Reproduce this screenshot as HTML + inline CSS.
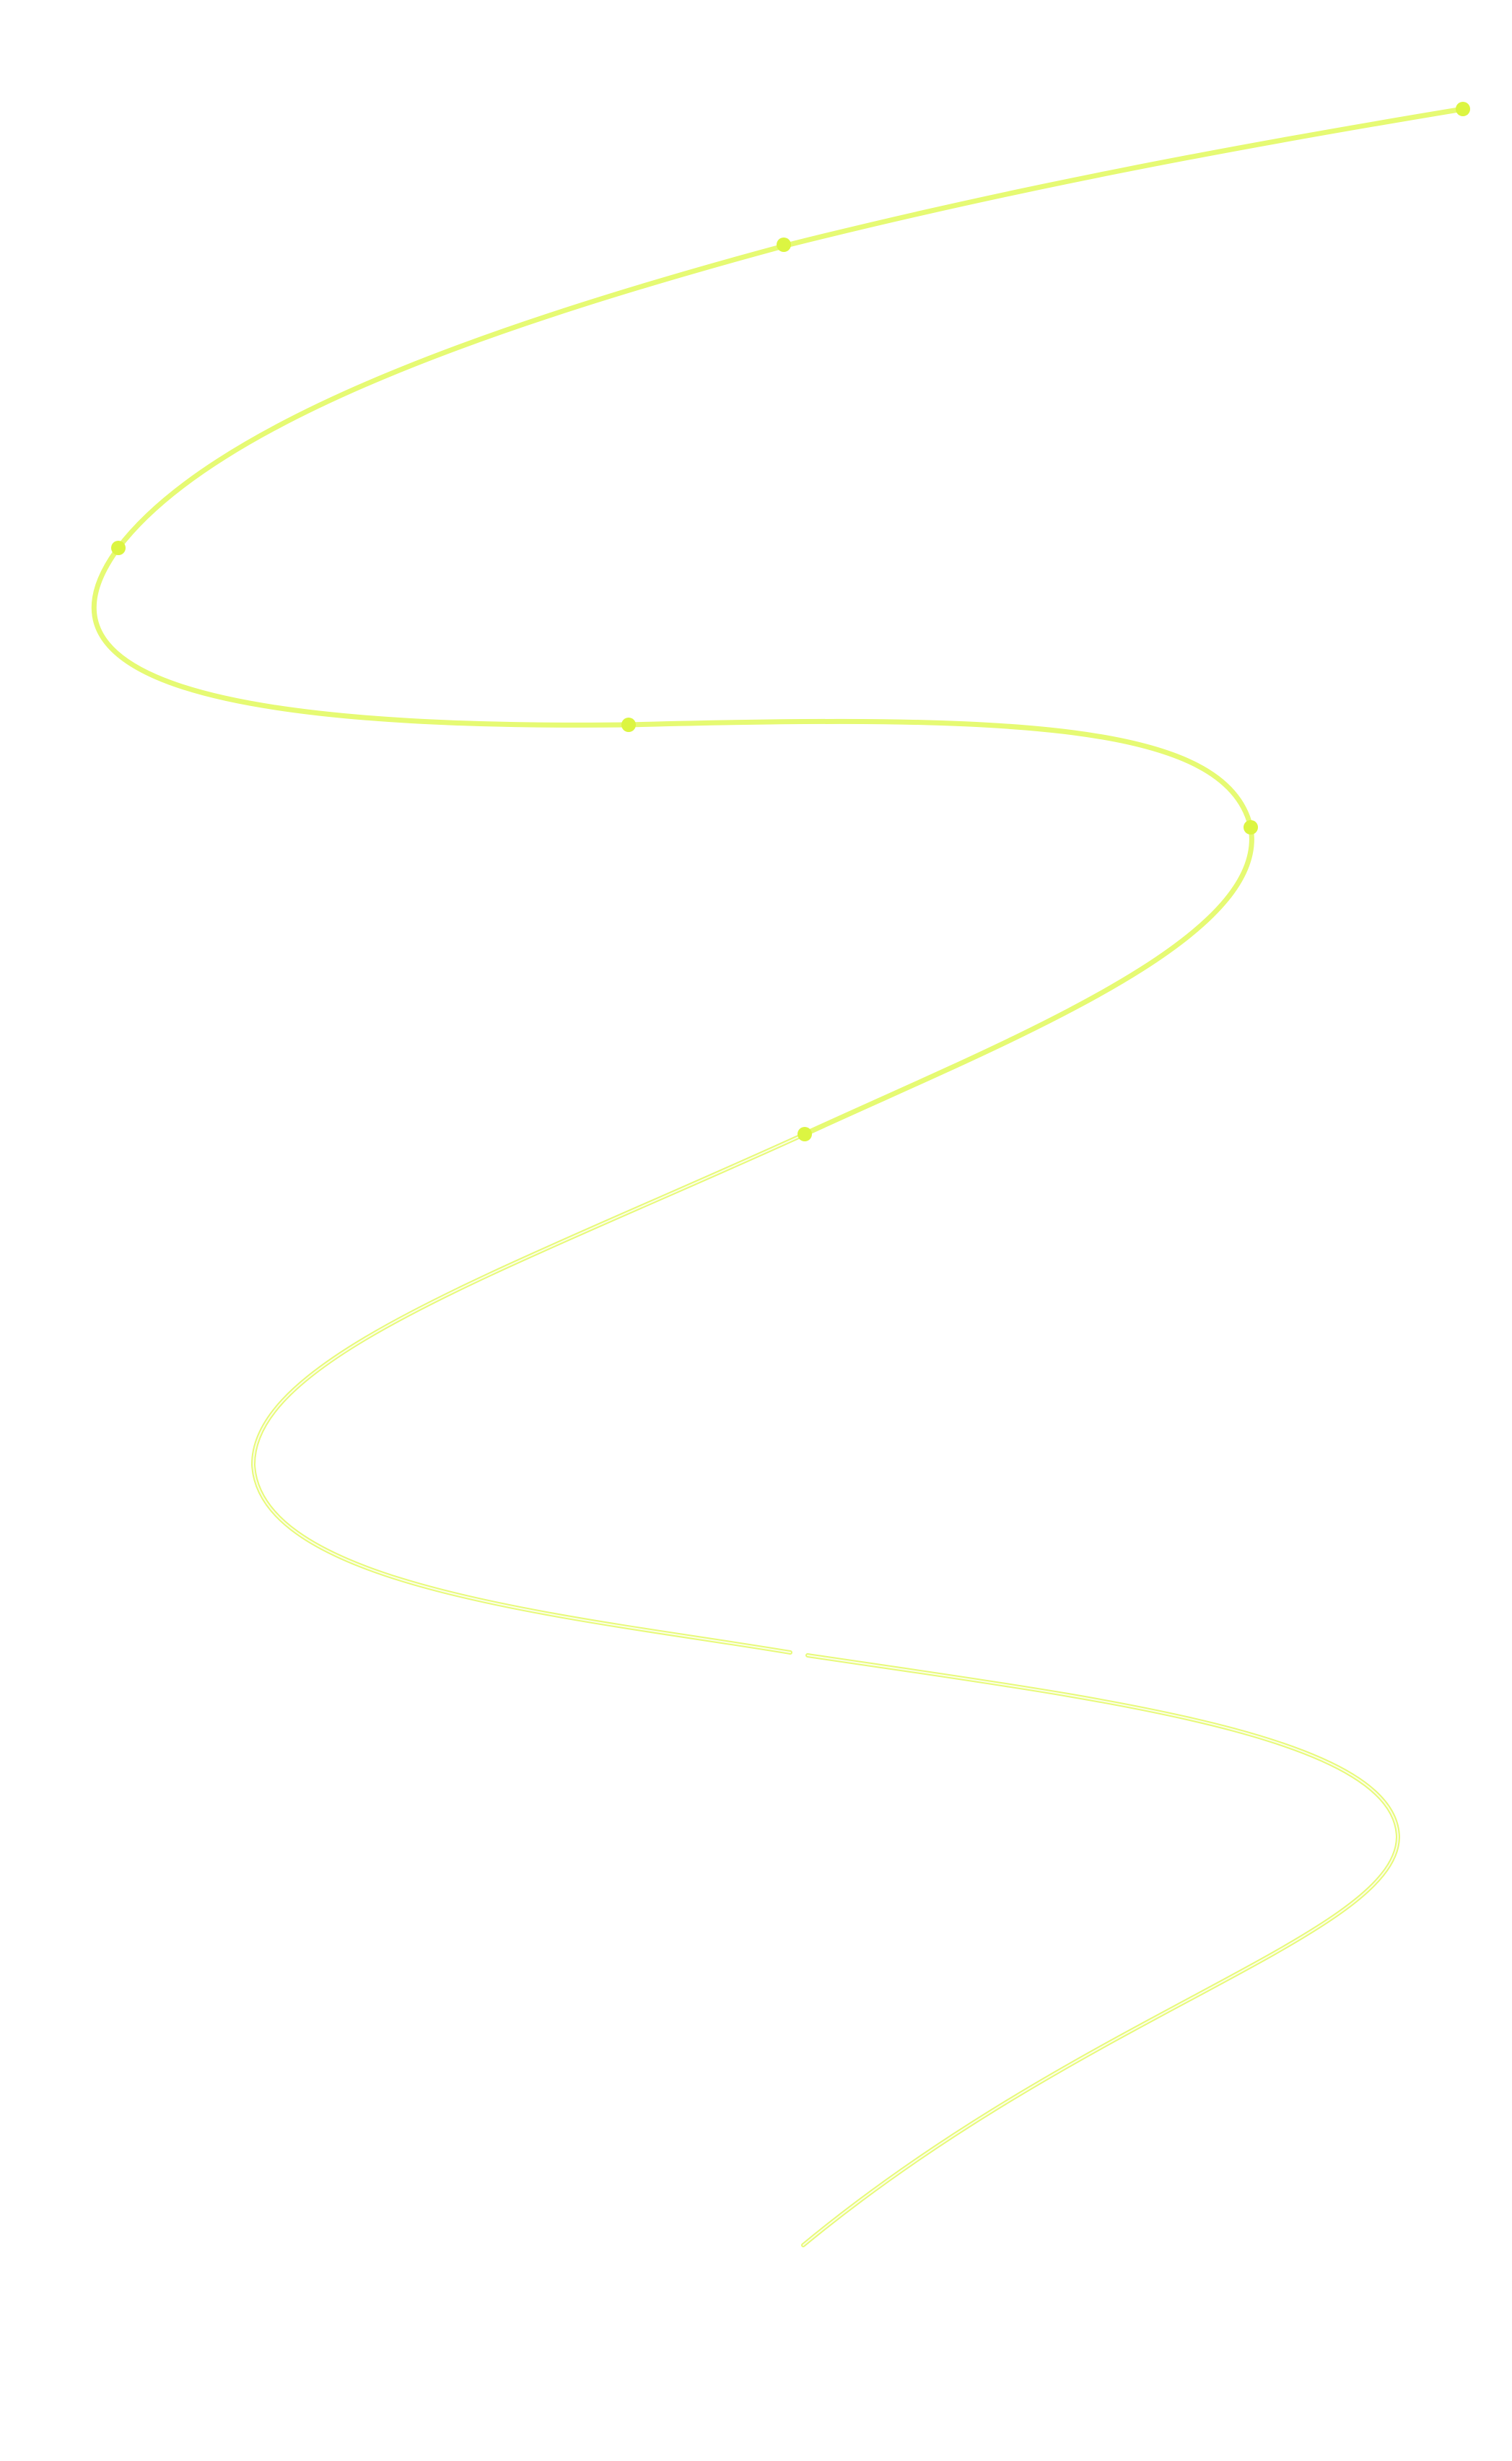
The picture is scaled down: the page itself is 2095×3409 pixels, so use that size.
<!DOCTYPE html>
<html><head><meta charset="utf-8"><style>
html,body{margin:0;padding:0;background:#fff;}
svg{display:block;}
</style></head><body>
<svg width="2095" height="3409" viewBox="0 0 2095 3409" xmlns="http://www.w3.org/2000/svg">
<g fill="none" stroke-linecap="round">
<path d="M2027,151 C1700,205 1400,262 1089,340 C700,445 300,580 164,759 C60,900 170,1012 871,1004 C1400,990 1700,1000 1733,1146 C1760,1300 1400,1440 1115,1571" stroke="#e6fa73" stroke-width="7"/>
<path d="M1115,1571 C700,1760 350,1880 351,2029 C360,2200 800,2240 1095,2289" stroke="#e8fa7a" stroke-width="6"/>
<path d="M1119,2293 C1500,2350 1935,2400 1937,2545 C1935,2680 1500,2790 1113,3110" stroke="#e8fa7a" stroke-width="6"/>
<path d="M1115,1571 C700,1760 350,1880 351,2029 C360,2200 800,2240 1095,2289" stroke="#fbfee8" stroke-width="2"/>
<path d="M1119,2293 C1500,2350 1935,2400 1937,2545 C1935,2680 1500,2790 1113,3110" stroke="#fbfee8" stroke-width="2"/>
</g>
<g fill="#dcf542">
<circle cx="2027" cy="151" r="10"/>
<circle cx="1086" cy="339" r="10"/>
<circle cx="164" cy="759" r="10"/>
<circle cx="871" cy="1004" r="10"/>
<circle cx="1733" cy="1146" r="10"/>
<circle cx="1115" cy="1571" r="10"/>
</g>
</svg>
</body></html>
